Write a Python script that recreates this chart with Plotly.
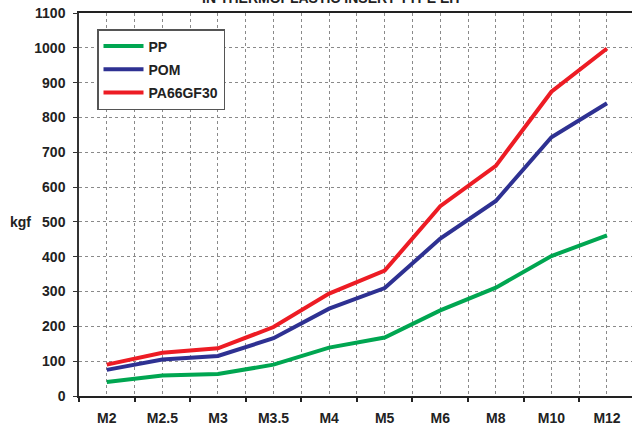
import plotly.graph_objects as go

categories = ["M2", "M2.5", "M3", "M3.5", "M4", "M5", "M6", "M8", "M10", "M12"]
pp = [40, 59, 63, 90, 139, 168, 246, 311, 402, 461]
pom = [75, 105, 115, 166, 251, 310, 452, 560, 743, 841]
pa66gf30 = [90, 124, 137, 198, 294, 360, 545, 661, 874, 998]
series_names = ["PP", "POM", "PA66GF30"]
series_colors = ["#00A651", "#2E3192", "#ED1C24"]
y_ticks = list(range(0, 1101, 100))
title_text = "IN THERMOPLASTIC INSERT TYPE EIT"

FONT = "Liberation Sans, Arial, Helvetica, sans-serif"

fig = go.Figure()
for i, (name, vals, col) in enumerate(zip(series_names, [pp, pom, pa66gf30], series_colors)):
    fig.add_trace(go.Scatter(
        x=categories, y=vals, name=name, mode="lines",
        line=dict(color=col, width=4), legendgroup=f"g{i}",
    ))
# invisible helper trace to drive the centre gridlines on an overlay axis
fig.add_trace(go.Scatter(x=categories, y=pp, xaxis="x2", mode="lines",
                         line=dict(width=0, color="rgba(0,0,0,0)"),
                         showlegend=False, hoverinfo="skip"))

xr = [-0.5, 9.45]
fig.update_layout(
    width=632, height=425,
    margin=dict(l=79, r=0, t=13, b=29),
    paper_bgcolor="white", plot_bgcolor="white",
    font=dict(family=FONT, size=14, color="#222"),
    showlegend=True,
    legend=dict(
        x=(97 - 79) / 553, y=1 - (29 - 13) / 383, xanchor="left", yanchor="top",
        bgcolor="white", bordercolor="#555", borderwidth=1.5,
        font=dict(family=FONT, size=14, color="#222", weight="bold"),
        traceorder="grouped", tracegroupgap=2,
        itemwidth=40, entrywidth=84,
    ),
    xaxis=dict(
        type="category", categoryorder="array", categoryarray=categories,
        range=xr, tickson="boundaries", ticks="outside", ticklen=4,
        tickwidth=1.5, tickcolor="#222",
        showline=True, linecolor="#222", linewidth=2, mirror=True,
        showgrid=True, gridcolor="#8a8a8a", griddash="dot", gridwidth=1,
        tickfont=dict(family=FONT, size=14, color="#222", weight="bold"),
        ticklabelstandoff=8,
        zeroline=False,
    ),
    xaxis2=dict(
        type="category", categoryorder="array", categoryarray=categories,
        range=xr, overlaying="x", anchor="y", showticklabels=False,
        ticks="", showline=False,
        showgrid=True, gridcolor="#8a8a8a", griddash="dot", gridwidth=1,
        zeroline=False,
    ),
    yaxis=dict(
        range=[0, 1100], tickvals=y_ticks, ticks="outside", ticklen=4,
        tickcolor="#333", showline=True, linecolor="#333", linewidth=1.5,
        showgrid=True, gridcolor="#8a8a8a", griddash="dot", gridwidth=1,
        tickfont=dict(family=FONT, size=14, color="#222", weight="bold"),
        ticklabelstandoff=5,
        zeroline=False,
    ),
)

fig.add_annotation(text="kgf", xref="paper", yref="paper",
                   x=-(79 - 20) / 553, y=(396 - 222) / 383,
                   xanchor="center", yanchor="middle", showarrow=False,
                   font=dict(family=FONT, size=14, color="#222", weight="bold"))
fig.add_annotation(text=title_text, xref="paper", yref="paper",
                   x=(332 - 79) / 553, y=1 + 15 / 383,
                   xanchor="center", yanchor="middle", showarrow=False,
                   font=dict(family=FONT, size=14, color="#222", weight="bold"))

fig.write_html("out.html", config={"displayModeBar": False},
               post_script="document.body.style.margin='0';")
